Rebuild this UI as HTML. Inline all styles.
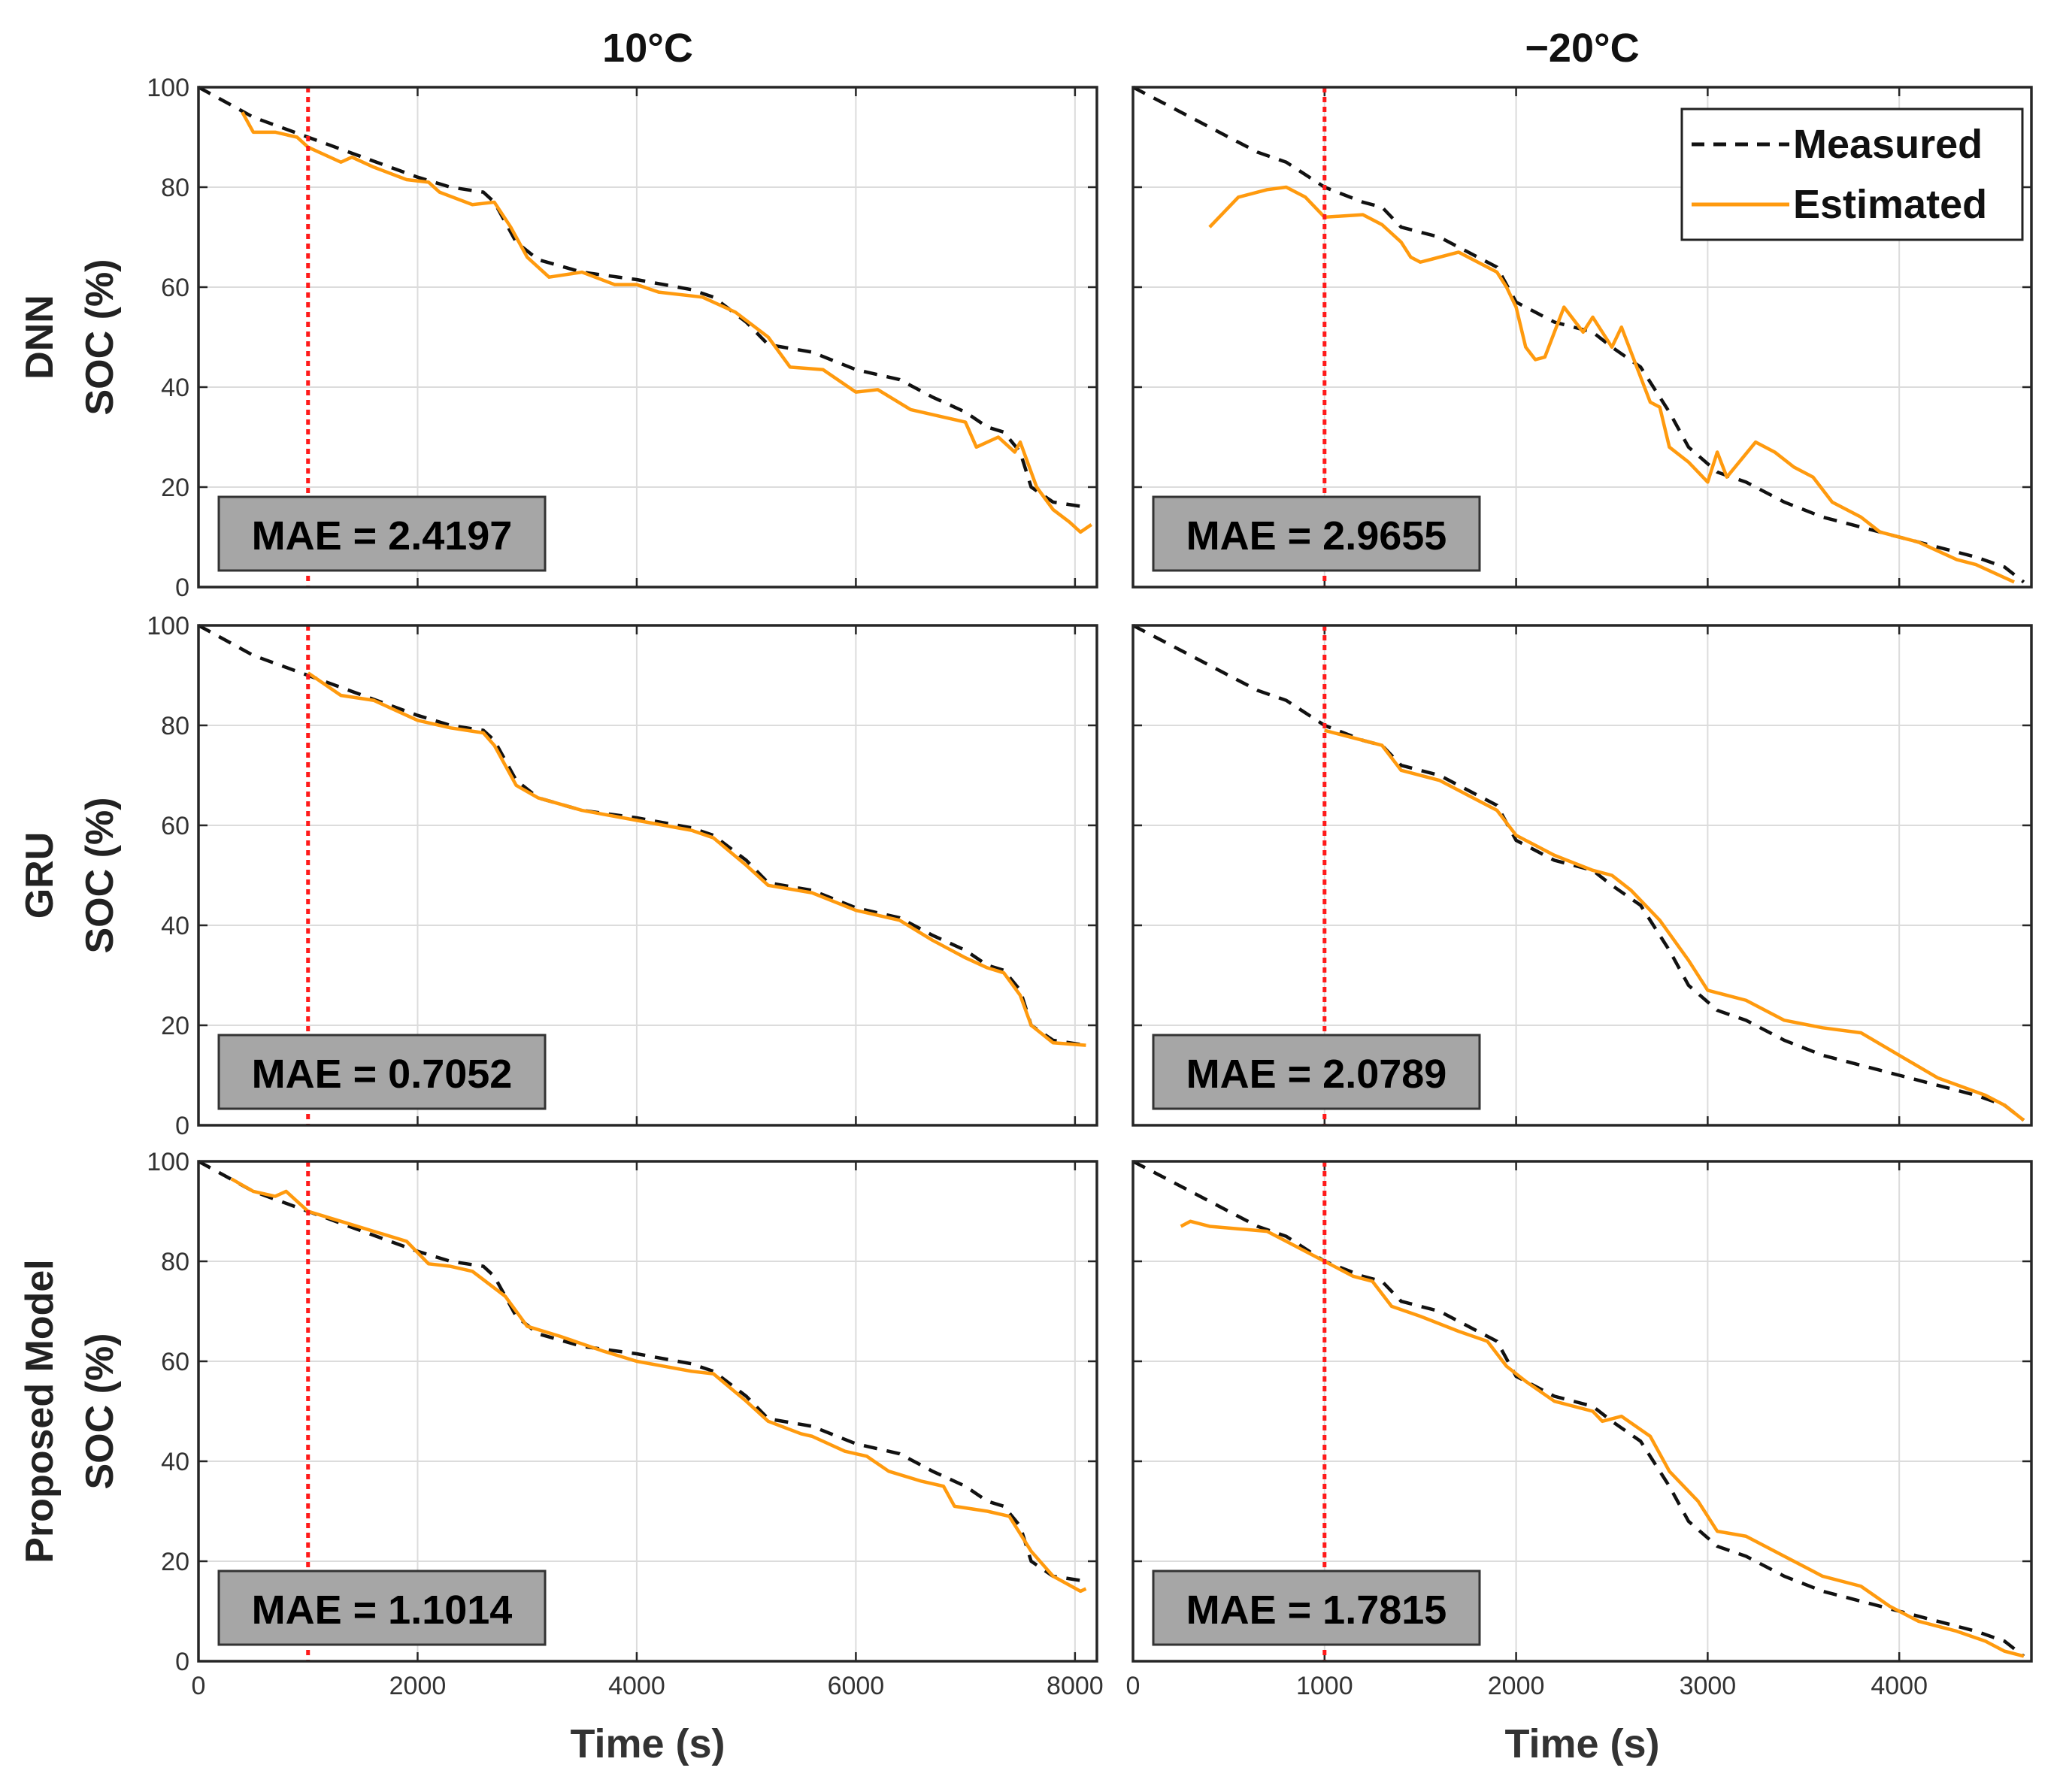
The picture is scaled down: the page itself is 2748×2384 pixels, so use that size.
<!DOCTYPE html>
<html><head><meta charset="utf-8"><style>
html,body{margin:0;padding:0;background:#fff;}
svg{display:block;font-family:"Liberation Sans",sans-serif;}
</style></head><body>
<svg id="fig" width="2748" height="2384" viewBox="0 0 2748 2384" xmlns="http://www.w3.org/2000/svg"></svg>
<script>
// ---- data ----
const leftXTicks=[0,2000,4000,6000,8000];
const rightXTicks=[0,1000,2000,3000,4000];
const yTicks=[0,20,40,60,80,100];
const colTitles=["10°C","\u221220°C"];
const rowModels=["DNN","GRU","Proposed Model"];
const maeValues=[["2.4197","2.9655"],["0.7052","2.0789"],["1.1014","1.7815"]];
const cutTime=1000;

const measL_t=[0,500,1000,1500,2000,2300,2600,2700,2900,3100,3500,4000,4500,4700,5000,5200,5600,6000,6400,6700,7000,7200,7350,7500,7600,7800,8100];
const measL_v=[100,94,90,86,82,80,79,77,69,65.5,63,61.5,59.5,58,53,48.5,47,43.5,41.5,38,35,32,31,27,20,17,16];
const measR_t=[0,250,500,650,800,1000,1200,1300,1400,1600,1800,1900,2000,2200,2400,2500,2650,2800,2900,3050,3200,3400,3600,3800,4000,4200,4400,4550,4650];
const measR_v=[100,95,90,87,85,80,77,76,72,70,66,64,57,53,51,48,44,35,28,23,21,17,14,12,10,8,6,4,1];

const dnnL_t=[400,500,700,900,1000,1300,1400,1600,1900,2100,2200,2500,2700,2850,3000,3200,3500,3800,4000,4200,4600,4900,5200,5400,5700,6000,6200,6500,6800,7000,7100,7300,7450,7500,7650,7800,7950,8050,8150];
const dnnL_v=[95,91,91,90,88,85,86,84,81.5,81,79,76.5,77,72,66,62,63,60.5,60.5,59,58,55,50,44,43.5,39,39.5,35.5,34,33,28,30,27,29,20,15.5,13,11,12.5];
const gruL_t=[1000,1300,1600,2000,2300,2600,2700,2900,3100,3500,4000,4500,4700,5000,5200,5600,6000,6400,6700,7000,7200,7350,7500,7600,7800,8100];
const gruL_v=[90.5,86,85,81,79.5,78.5,76,68,65.5,63,61,59,57.5,52,48,46.5,43,41,37,33.5,31.5,30.5,26,20,16.5,16];
const propL_t=[300,500,700,800,1000,1300,1600,1900,2100,2300,2500,2800,3000,3300,3700,4000,4500,4700,5000,5200,5500,5600,5900,6100,6300,6600,6800,6900,7200,7400,7600,7800,8050,8100];
const propL_v=[96.5,94,93,94,90,88,86,84,79.5,79,78,73,67,65,62,60,58,57.5,52,48,45.5,45,42,41,38,36,35,31,30,29,22,17,14,14.5];

const dnnR_t=[400,550,700,800,900,1000,1200,1300,1400,1450,1500,1700,1900,1950,2000,2050,2100,2150,2200,2250,2350,2400,2500,2550,2650,2700,2750,2800,2900,3000,3050,3100,3250,3350,3450,3550,3650,3800,3900,4100,4300,4400,4600];
const dnnR_v=[72,78,79.5,80,78,74,74.5,72.5,69,66,65,67,63,60,56,48,45.5,46,51,56,51,54,48,52,42,37,36,28,25,21,27,22,29,27,24,22,17,14,11,9,5.5,4.5,1];
const gruR_t=[1000,1300,1400,1600,1800,1900,2000,2200,2400,2500,2600,2750,2900,3000,3200,3400,3600,3800,4000,4200,4450,4550,4650];
const gruR_v=[79,76,71,69,65,63,58,54,51,50,47,41,33,27,25,21,19.5,18.5,14,9.5,6,4,1];
const propR_t=[250,300,400,700,800,1000,1150,1250,1350,1500,1700,1850,1950,2050,2200,2400,2450,2550,2700,2800,2950,3050,3200,3400,3600,3800,3950,4100,4300,4450,4550,4650];
const propR_v=[87,88,87,86,84,80,77,76,71,69,66,64,59,56,52,50,48,49,45,38,32,26,25,21,17,15,11,8,6,4,2,1];

// ---- layout ----
const NS="http://www.w3.org/2000/svg";
const svg=document.getElementById('fig');
const colX=[264,1507], colW=1195;
const rowY=[116,832,1545], rowH=665;
const xMax=[8200,4690];
function mk(tag,attrs,parent){const e=document.createElementNS(NS,tag);for(const k in attrs)e.setAttribute(k,attrs[k]);(parent||svg).appendChild(e);return e;}
function txt(s,attrs,parent){const e=mk('text',attrs,parent);e.textContent=s;return e;}

const estT=[[dnnL_t,dnnR_t],[gruL_t,gruR_t],[propL_t,propR_t]];
const estV=[[dnnL_v,dnnR_v],[gruL_v,gruR_v],[propL_v,propR_v]];
const measT=[measL_t,measR_t], measV=[measL_v,measR_v];
const xTicksAll=[leftXTicks,rightXTicks];

for(let c=0;c<2;c++){
  const t=txt(colTitles[c],{x:colX[c]+colW/2,y:82,'text-anchor':'middle','font-size':54,'font-weight':'bold',fill:'#111'});
  
  
}
for(let r=0;r<3;r++){
  const cy=rowY[r]+rowH/2;
  const g=mk('g',{transform:`translate(0,${cy}) rotate(-90)`});
  
  
  txt(rowModels[r],{x:0,y:70,'text-anchor':'middle','font-size':52,'font-weight':'bold',fill:'#222'},g);
  txt('SOC (%)',{x:0,y:150,'text-anchor':'middle','font-size':52,'font-weight':'bold',fill:'#222'},g);
  for(let c=0;c<2;c++){
    const x0=colX[c],y0=rowY[r];
    const sx=v=>x0+v/xMax[c]*colW;
    const sy=v=>y0+rowH-v/100*rowH;
    const p=mk('g',{});
    
    
    mk('rect',{x:x0,y:y0,width:colW,height:rowH,fill:'#fff'},p);
    for(const tv of xTicksAll[c]){
      mk('line',{x1:sx(tv),x2:sx(tv),y1:y0,y2:y0+rowH,stroke:'#dcdcdc','stroke-width':2},p);
      mk('line',{x1:sx(tv),x2:sx(tv),y1:y0+rowH,y2:y0+rowH-12,stroke:'#262626','stroke-width':2.5},p);
      mk('line',{x1:sx(tv),x2:sx(tv),y1:y0,y2:y0+12,stroke:'#262626','stroke-width':2.5},p);
      if(r===2){const l=txt(String(tv),{x:sx(tv),y:y0+rowH+44,'text-anchor':'middle','font-size':34,fill:'#333'},p);
        
        }
    }
    for(const yv of yTicks){
      mk('line',{x1:x0,x2:x0+colW,y1:sy(yv),y2:sy(yv),stroke:'#dcdcdc','stroke-width':2},p);
      mk('line',{x1:x0,x2:x0+12,y1:sy(yv),y2:sy(yv),stroke:'#262626','stroke-width':2.5},p);
      mk('line',{x1:x0+colW,x2:x0+colW-12,y1:sy(yv),y2:sy(yv),stroke:'#262626','stroke-width':2.5},p);
      if(c===0){const l=txt(String(yv),{x:x0-12,y:sy(yv)+12,'text-anchor':'end','font-size':34,fill:'#333'},p);
        
        }
    }
    const mp=mk('polyline',{points:measT[c].map((t,i)=>sx(t)+','+sy(measV[c][i])).join(' '),fill:'none',stroke:'#111','stroke-width':4.5,'stroke-dasharray':'18 13'},p);
    
    
    const ep=mk('polyline',{points:estT[r][c].map((t,i)=>sx(t)+','+sy(estV[r][c][i])).join(' '),fill:'none',stroke:'#ff9a0e','stroke-width':4.5,'stroke-linejoin':'round'},p);
    
    
    const cl=mk('line',{x1:sx(cutTime),x2:sx(cutTime),y1:y0,y2:y0+rowH,stroke:'#ff1a1a','stroke-width':5,'stroke-dasharray':'7 6'},p);
    
    
    const bx=mk('g',{},p);
    
    
    mk('rect',{x:x0+27,y:y0+545,width:434,height:98,fill:'#a6a6a6',stroke:'#333','stroke-width':3},bx);
    txt('MAE = '+maeValues[r][c],{x:x0+244,y:y0+615,'text-anchor':'middle','font-size':54,'font-weight':'bold',fill:'#000'},bx);
    mk('rect',{x:x0,y:y0,width:colW,height:rowH,fill:'none',stroke:'#262626','stroke-width':3.5},p);
  }
}
for(let c=0;c<2;c++){
  const l=txt('Time (s)',{x:colX[c]+colW/2,y:2338,'text-anchor':'middle','font-size':54,'font-weight':'bold',fill:'#333'});
  
  
}
const lg=mk('g',{});


mk('rect',{x:2237,y:145,width:453,height:174,fill:'#fff',stroke:'#222','stroke-width':3},lg);
mk('line',{x1:2250,x2:2380,y1:192,y2:192,stroke:'#111','stroke-width':5,'stroke-dasharray':'17 12'},lg);
txt('Measured',{x:2385,y:210,'font-size':54,'font-weight':'bold',fill:'#111'},lg);
mk('line',{x1:2250,x2:2380,y1:272,y2:272,stroke:'#ff9a0e','stroke-width':5},lg);
txt('Estimated',{x:2385,y:290,'font-size':54,'font-weight':'bold',fill:'#111'},lg);
</script>
</body></html>
